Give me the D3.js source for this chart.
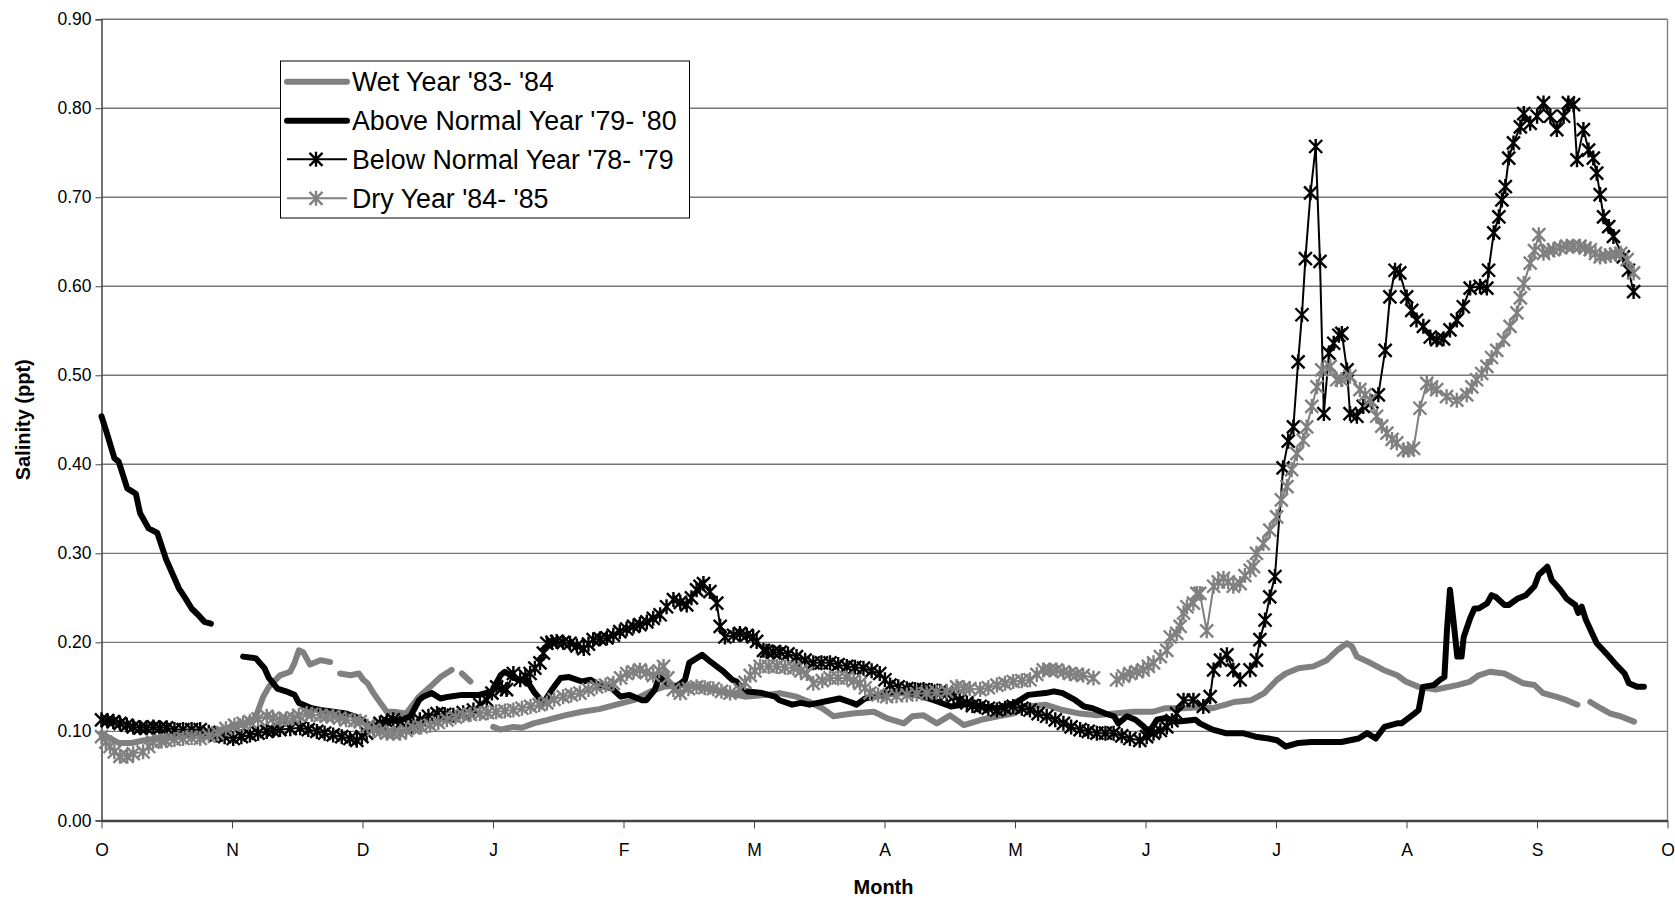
<!DOCTYPE html>
<html>
<head>
<meta charset="utf-8">
<script src="https://cdn.jsdelivr.net/npm/d3@7"></script>
<style>
  body { margin: 0; background: #fff; }
  svg { display: block; font-family: "Liberation Sans", Arial, sans-serif; }
</style>
</head>
<body>
<div id="chart"></div>
<script>
// month letters, one tick every 1/12 of the water year (Oct -> Oct)
const months = ["O", "N", "D", "J", "F", "M", "A", "M", "J", "J", "A", "S", "O"];
const yTicks = [0, 0.1, 0.2, 0.3, 0.4, 0.5, 0.6, 0.7, 0.8, 0.9];

// [day of water year, salinity ppt]; null = gap in record
const wetYear = [
  [0,.098],[2,.092],[4,.087],[7,.087],[10,.09],[13,.092],[17,.095],[21,.097],[25,.1],[29,.103],[33,.108],[35,.112],[36,.117],
  [37.7,.139],[39,.15],[41.6,.163],[44,.167],[45,.177],[46,.191],[47,.189],[48.6,.175],[51,.18],[53.3,.178],
  null,
  [55.6,.165],[58,.163],[60,.165],[61,.158],[62,.154],[63.4,.143],[65,.132],[66.5,.122],[68,.122],[71,.12],[74,.139],[76.6,.15],[79,.161],[81.6,.169],
  null,
  [84,.165],[86,.156],
  null,
  [91.3,.105],[93,.102],[96,.105],[98,.104],[100.7,.109],[104,.113],[108,.118],[112,.122],[116,.125],[120,.13],[124,.135],[128,.145],
  [131,.15],[135,.152],[139,.15],[143,.146],[147,.142],[150,.139],[155,.141],[158,.143],[162,.139],[165,.133],[168,.126],[170.6,.117],
  [175,.12],[180,.122],[183,.115],[187,.109],[189,.117],[191.6,.118],[194.7,.109],[197.8,.118],[201,.107],[205,.113],[209,.117],
  [212.5,.12],[216,.128],[220,.13],[224,.124],[228,.12],[232,.118],[236,.12],[240.5,.122],[245,.122],[248,.126],[252,.126],[256,.127],
  [259,.126],[262,.13],[264,.133],[268,.135],[271,.143],[274,.158],[276,.165],[279,.171],[282.5,.173],[285.6,.18],[288,.191],
  [290.3,.199],[291.5,.195],[292.6,.184],[295.7,.177],[298.8,.169],[302,.163],[304,.156],[307,.15],[311,.147],[316,.152],[319,.156],
  [321,.163],[323.6,.167],[327,.165],[329,.16],[331.4,.154],[334,.152],[336,.143],[339,.139],[341.5,.135],[344,.13],
  null,
  [347,.133],[349.4,.126],[351.7,.12],[354,.117],[357.2,.111]
];

const aboveNormal = [
  [0,.454],[1,.439],[3,.407],[4,.403],[6,.373],[8,.367],[9,.345],[11,.328],[13,.323],[15,.294],[16,.283],[18,.261],[19.5,.25],
  [21,.238],[22.5,.231],[24,.223],[25.5,.221],
  null,
  [33,.184],[36,.182],[38,.171],[39,.16],[41,.148],[43,.145],[45,.141],[46,.132],[49,.126],[51,.124],[54,.122],[57,.12],[59,.117],
  [61,.112],[63,.105],[65,.109],[66,.111],[70,.113],[72,.117],[74,.135],[75,.139],[77,.143],[79,.137],[81,.139],[84,.141],[88,.141],
  [91,.145],[93,.163],[94,.167],[97,.158],[99,.158],[101,.143],[103,.132],[105,.147],[107,.16],[109,.161],[112,.156],[114,.158],
  [116,.152],[119,.148],[121,.139],[123,.141],[126,.135],[127,.135],[129,.147],[130,.161],[132,.154],[134,.15],[136,.158],[137,.177],
  [140,.186],[142,.178],[145,.167],[147,.158],[148,.156],[150,.145],[154,.143],[157,.139],[158,.135],[161,.13],[163,.132],[165,.13],
  [168,.133],[170,.135],[172,.137],[175,.132],[176,.13],[178,.137],[182,.141],[186,.145],[190,.141],[194,.135],[198,.128],[202,.131],
  [205,.128],[209,.126],[213,.132],[216,.141],[220,.143],[222,.145],[224,.143],[227,.135],[229,.128],[231,.126],[234,.12],[236,.117],
  [237,.109],[239,.117],[241,.113],[243,.105],[244,.098],[246,.113],[248,.115],[251,.111],[255,.113],[256,.109],[259,.102],[262,.098],
  [266,.098],[269,.094],[272,.092],[274,.09],[276,.083],[279,.087],[282,.088],[285,.088],[289,.088],[293,.092],[295,.098],[297,.092],
  [299,.105],[302,.109],[303,.109],[306,.12],[307,.124],[308,.15],[310.5,.152],[312,.158],[313,.161],[313.6,.214],[314.3,.259],
  [315.1,.225],[316,.184],[317,.184],[317.5,.206],[319,.227],[320,.238],[321,.238],[323,.244],[324,.253],[325,.251],[327,.242],
  [328,.242],[330,.249],[332,.253],[334,.263],[335,.276],[337,.285],[338,.27],[340,.259],[341.5,.249],[343.5,.242],[344.2,.233],
  [345,.24],[346,.225],[348.5,.199],[351,.186],[353,.175],[355,.165],[356,.154],[358,.15],[359.5,.15]
];

const belowNormal = [
  [0,.113],[1.4,.112],[2.75,.111],[4.3,.109],[5.9,.107],[7.4,.105],[9,.104],[10.5,.104],[12.1,.105],[13.6,.104],[15.2,.104],[17,.102],
  [19,.102],[21,.102],[23,.102],[25,.099],[26.8,.096],[28.7,.094],[30.7,.092],[32.6,.094],[34.6,.096],[36.5,.098],[38.5,.1],[40,.101],
  [41.6,.102],[44,.103],[46.3,.104],[48.2,.102],[50.2,.1],[52,.098],[54,.096],[56,.094],[57.9,.092],[59.5,.09],[60.7,.094],[61.8,.098],
  [63.4,.104],[64.9,.109],[66.5,.111],[68,.113],[69.6,.109],[71,.105],[72.7,.109],[74.2,.113],[76.2,.117],[78.2,.12],[80,.119],[82,.118],
  [84.3,.121],[86.7,.124],[88.2,.13],[89.8,.135],[91,.143],[92.1,.15],[93.3,.148],[94.4,.147],[96,.165],[97.6,.158],[98.8,.162],
  [99.9,.165],[101,.171],[102.2,.177],[103,.188],[103.8,.199],[105,.2],[106.1,.201],[107.6,.2],[109.2,.199],[110.8,.196],[112.4,.193],
  [113.5,.198],[114.6,.203],[116.2,.204],[117.8,.205],[119.3,.208],[120.8,.212],[122.4,.215],[124,.218],[125.5,.22],[127.1,.223],
  [128.6,.227],[130.2,.231],[131.7,.24],[133.3,.248],[134.9,.245],[136.4,.242],[137.5,.25],[138.7,.259],[139.5,.263],[140.3,.266],
  [141.8,.257],[143.4,.244],[144.2,.218],[145.3,.206],[147.3,.208],[148.8,.21],[150.4,.208],[151.9,.206],[152.7,.201],[154.3,.191],
  [155,.19],[156.6,.189],[158.2,.189],[160,.187],[162,.184],[164,.18],[165.9,.177],[167.8,.177],[169.8,.177],[171.7,.175],[173.7,.173],
  [175.6,.172],[177.6,.171],[179.5,.168],[181.4,.165],[182.6,.158],[183.8,.152],[185.7,.15],[187.7,.148],[189.6,.147],[191.6,.147],
  [193.5,.146],[195.5,.145],[197,.142],[198.6,.139],[200,.135],[201.7,.132],[203,.129],[204.8,.128],[206.7,.126],[208.7,.124],
  [210.6,.126],[212.5,.128],[214.5,.126],[216.4,.124],[218.3,.12],[220.3,.117],[222.3,.113],[224.2,.109],[226,.105],[228.1,.102],
  [230,.1],[232,.098],[234,.098],[235.9,.098],[237.8,.095],[239.7,.092],[242,.09],[243.6,.094],[245.2,.098],[246.8,.101],[248.3,.105],
  [249.5,.112],[250.6,.12],[252.2,.135],[254.5,.135],[256.8,.128],[258.4,.139],[259.2,.169],[260.8,.18],[262.3,.186],[263.8,.169],
  [265.4,.158],[267.7,.169],[269.2,.18],[270,.203],[271.2,.225],[272.3,.251],[273.5,.274],[275.4,.396],[276.6,.426],[277.8,.442],
  [278.9,.515],[279.8,.568],[280.6,.631],[281.8,.705],[283,.757],[284,.628],[284.9,.457],[286.1,.525],[287.2,.536],[288.4,.545],
  [289.1,.547],[290.3,.506],[291,.457],[292.6,.454],[294.1,.465],[296.1,.47],[297.6,.478],[299.2,.528],[300.3,.588],[301.5,.618],
  [302.6,.615],[304.2,.588],[305.4,.573],[306.5,.562],[308.1,.555],[309.7,.543],[311.2,.54],[312.8,.541],[314.3,.551],[315.9,.562],
  [317.4,.577],[319,.598],[321.3,.6],[322.9,.598],[323.3,.618],[324.5,.66],[325.7,.678],[326.4,.697],[327.2,.712],[328,.744],
  [329.1,.761],[330.7,.779],[331.5,.794],[333,.783],[334.6,.791],[336.1,.806],[337.7,.791],[339.2,.776],[340.8,.791],[341.9,.806],
  [343.1,.804],[343.9,.742],[345.4,.776],[346.6,.753],[347.7,.744],[348.5,.727],[349.3,.703],[350.1,.678],[351.3,.667],[352.4,.656],
  [354.7,.633],[355.9,.618],[357.1,.594]
];

const dryYear = [
  [0,.094],[1,.088],[2,.083],[3,.077],[4.3,.072],[6,.072],[7.4,.075],[9.7,.077],[11,.083],[12,.088],[14,.089],[15,.09],[17,.091],
  [19,.092],[21,.093],[23,.092],[25,.095],[27,.098],[29,.103],[31,.107],[33,.109],[34.6,.111],[36.5,.114],[38.5,.117],[40,.115],
  [41.6,.113],[43,.114],[44.7,.115],[46,.118],[47.8,.12],[49,.119],[51,.118],[52.5,.117],[54,.117],[55.5,.115],[57,.113],[59,.112],
  [60.3,.111],[62,.106],[63.4,.102],[65,.1],[66.5,.098],[68,.098],[69.6,.098],[71,.101],[72.7,.104],[74.5,.105],[76.6,.107],[78.5,.11],
  [80.5,.113],[82.5,.116],[84.3,.118],[86,.119],[88.2,.12],[90,.121],[92,.122],[94,.123],[96,.124],[98,.126],[100,.128],[102,.13],
  [103.8,.132],[105.5,.136],[107.6,.139],[109.5,.141],[111.5,.143],[113.5,.147],[115.4,.15],[117.5,.152],[119.3,.154],[121,.16],
  [122.4,.165],[124,.167],[125.5,.169],[127,.166],[128.6,.163],[130,.168],[131,.173],[132,.16],[133.3,.147],[134.9,.143],[136.8,.148],
  [138.7,.15],[140.6,.149],[142.6,.148],[144.5,.145],[146.5,.143],[148.8,.147],[150,.155],[151.2,.163],[152.3,.168],[153.5,.173],
  [155.5,.173],[157.4,.173],[159.3,.172],[161.3,.171],[163,.168],[164.4,.165],[165.9,.154],[168,.157],[169.8,.16],[171.7,.16],
  [173.7,.16],[175.3,.157],[176.8,.154],[178,.149],[179.1,.143],[181,.141],[183,.139],[185.3,.14],[187.7,.141],[190,.142],[192.3,.143],
  [194.6,.144],[197,.145],[199.3,.15],[201,.149],[202.4,.148],[204.8,.147],[206.7,.149],[208.7,.152],[210.6,.154],[212.5,.156],
  [214.5,.157],[216.4,.158],[218,.164],[219.5,.169],[221,.169],[222.6,.169],[224.2,.167],[225.7,.165],[227.3,.164],[228.8,.163],[231.2,.16],
  null,
  [236.6,.158],[238.2,.162],[239.7,.165],[241.3,.167],[242.8,.169],[244,.173],[245.2,.177],[246.8,.184],[248.3,.191],[249.1,.206],
  [250.6,.21],[251.4,.218],[252.2,.233],[253,.24],[254.5,.244],[255.3,.255],[256,.255],[257.6,.213],[259.2,.263],[260.3,.268],
  [261.5,.272],[262.6,.268],[263.8,.263],[265.4,.266],[266.5,.275],[267.7,.281],[268.5,.285],[269.2,.3],[270.8,.311],[272.3,.326],
  [273.9,.341],[275,.36],[276.3,.375],[277.4,.394],[278.6,.412],[280.1,.427],[280.9,.442],[282.1,.465],[283.3,.487],[284.4,.506],
  [286.4,.51],[287.9,.495],[289,.495],[291,.499],[293.3,.484],[294.5,.478],[295.7,.472],[297.2,.454],[298.4,.443],[299.6,.435],
  [300.8,.428],[301.9,.424],[303.5,.416],[304.6,.416],[305.8,.418],[307.3,.463],[308.9,.491],[310,.487],[311.2,.484],[313.5,.476],
  [315.9,.472],[318.2,.478],[319.4,.487],[320.5,.495],[321.7,.502],[322.9,.51],[324,.52],[325.2,.528],[326.8,.54],[328.3,.555],
  [329.9,.57],[330.7,.587],[331.5,.603],[333,.626],[334,.64],[335,.658],[336.1,.637],[337.3,.64],[338.4,.641],[340,.643],[341.5,.645],
  [343,.645],[344.6,.645],[345.8,.643],[347,.641],[348.2,.637],[349.3,.633],[350.5,.634],[351.7,.635],[352.9,.636],[354.1,.637],
  [355.6,.63],[357.1,.615]
];

const seriesNames = ["Wet Year '83- '84", "Above Normal Year '79- '80", "Below Normal Year '78- '79", "Dry Year '84- '85"];

const chartSizes = {
    width: 1675,
    height: 897,
    left: 101.5,
    right: 1667.5,
    top: 19.2,
    bottom: 820.4
};

const gray = "#808080";

const series = [
    { name: seriesNames[0], data: wetYear, color: gray, width: 6, marker: false },
    { name: seriesNames[1], data: aboveNormal, color: "#000", width: 6, marker: false },
    { name: seriesNames[2], data: belowNormal, color: "#000", width: 2, marker: true },
    { name: seriesNames[3], data: dryYear, color: gray, width: 2, marker: true }
];

const svg = d3.select("#chart")
    .append("svg")
    .attr("width", chartSizes.width)
    .attr("height", chartSizes.height);

const xScale = d3.scaleLinear()
    .domain([0, 365])
    .range([chartSizes.left, chartSizes.right]);

const yScale = d3.scaleLinear()
    .domain([0, 0.9])
    .range([chartSizes.bottom, chartSizes.top]);

// horizontal gridlines
svg.append("g")
    .selectAll("line")
    .data(yTicks.slice(1))
    .join("line")
    .attr("x1", chartSizes.left)
    .attr("x2", chartSizes.right)
    .attr("y1", d => yScale(d))
    .attr("y2", d => yScale(d))
    .attr("stroke", "#777")
    .attr("stroke-width", 1.4);

// right edge of plot area
svg.append("line")
    .attr("x1", chartSizes.right).attr("x2", chartSizes.right)
    .attr("y1", chartSizes.top).attr("y2", chartSizes.bottom)
    .attr("stroke", gray)
    .attr("stroke-width", 1.4);

// y axis
const yAxis = d3.axisLeft(yScale)
    .tickValues(yTicks)
    .tickFormat(d3.format(".2f"))
    .tickSize(6)
    .tickPadding(4);

const yAxisG = svg.append("g")
    .attr("transform", "translate(" + chartSizes.left + ",0)")
    .call(yAxis);

yAxisG.select(".domain").attr("stroke", "#444").attr("stroke-width", 1.5);
yAxisG.selectAll(".tick line").attr("stroke", "#444");
yAxisG.selectAll(".tick text")
    .attr("font-size", 17.5)
    .attr("font-family", "Liberation Sans, Arial, sans-serif")
    .attr("fill", "#000");

// x axis, month letters at equal twelfths of the year
const monthTicks = months.map((m, i) => i * 365 / 12);

const xAxis = d3.axisBottom(xScale)
    .tickValues(monthTicks)
    .tickFormat((d, i) => months[i])
    .tickSize(8)
    .tickPadding(15)
    .tickSizeOuter(0);

const xAxisG = svg.append("g")
    .attr("transform", "translate(0," + chartSizes.bottom + ")")
    .call(xAxis);

xAxisG.select(".domain").attr("stroke", "#444").attr("stroke-width", 2.5);
xAxisG.selectAll(".tick line").attr("stroke", "#444");
xAxisG.selectAll(".tick text")
    .attr("font-size", 17.5)
    .attr("font-family", "Liberation Sans, Arial, sans-serif")
    .attr("fill", "#000");

// axis titles
svg.append("text")
    .attr("x", (chartSizes.left + chartSizes.right) / 2 - 1)
    .attr("y", 894)
    .attr("text-anchor", "middle")
    .attr("font-size", 20)
    .attr("font-weight", "bold")
    .text("Month");

svg.append("text")
    .attr("transform", "translate(30," + (chartSizes.top + chartSizes.bottom) / 2 + ") rotate(-90)")
    .attr("text-anchor", "middle")
    .attr("font-size", 20)
    .attr("font-weight", "bold")
    .text("Salinity (ppt)");

// asterisk marker used for the two thin series
const starPath = "M0,-7.5V7.5M-6.5,-6.5L6.5,6.5M-6.5,6.5L6.5,-6.5";

const line = d3.line()
    .defined(d => d !== null)
    .x(d => xScale(d[0]))
    .y(d => yScale(d[1]));

const plot = svg.append("g");

series.forEach(s => {
    plot.append("path")
        .datum(s.data)
        .attr("fill", "none")
        .attr("stroke", s.color)
        .attr("stroke-width", s.width)
        .attr("stroke-linejoin", "round")
        .attr("stroke-linecap", "round")
        .attr("d", line);

    if (s.marker) {
        plot.append("g")
            .selectAll("path")
            .data(s.data.filter(d => d !== null))
            .join("path")
            .attr("transform", d => "translate(" + xScale(d[0]) + "," + yScale(d[1]) + ")")
            .attr("d", starPath)
            .attr("stroke", s.color)
            .attr("stroke-width", 2.4)
            .attr("fill", "none");
    }
});

// legend
const legend = svg.append("g");

legend.append("rect")
    .attr("x", 280.5)
    .attr("y", 61)
    .attr("width", 409)
    .attr("height", 157)
    .attr("fill", "#fff")
    .attr("stroke", "#000")
    .attr("stroke-width", 1);

const legendRowY = [81.7, 120.7, 159.3, 198.3];

series.forEach((s, i) => {
    const y = legendRowY[i];
    legend.append("line")
        .attr("x1", 287).attr("x2", 347)
        .attr("y1", y).attr("y2", y)
        .attr("stroke", s.color)
        .attr("stroke-width", s.width)
        .attr("stroke-linecap", s.marker ? "butt" : "round");
    if (s.marker) {
        legend.append("path")
            .attr("transform", "translate(316," + y + ")")
            .attr("d", starPath)
            .attr("stroke", s.color)
            .attr("stroke-width", 2.4)
            .attr("fill", "none");
    }
    legend.append("text")
        .attr("x", 352)
        .attr("y", y)
        .attr("dy", "0.36em")
        .attr("font-size", 26.8)
        .text(s.name);
});
</script>
</body>
</html>
